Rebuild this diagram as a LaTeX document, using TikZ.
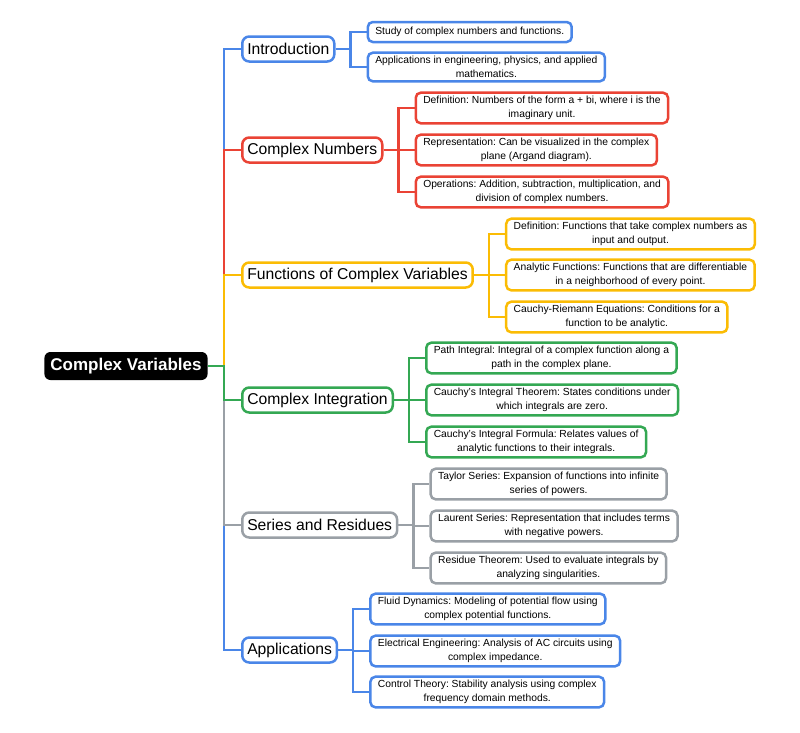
\documentclass[tikz,border=0pt]{standalone}
\usepackage{fontspec}
\setmainfont{Liberation Sans}
\usetikzlibrary{positioning}

\definecolor{cblue}{HTML}{4A86E8}
\definecolor{cred}{HTML}{EA4335}
\definecolor{cyellow}{HTML}{FBBC04}
\definecolor{cgreen}{HTML}{34A853}
\definecolor{cgray}{HTML}{9AA0A6}

\tikzset{
  rootbox/.style={fill=black, text=white, rounded corners=6pt, inner xsep=6pt,
    minimum height=28pt, font=\fontsize{17}{20}\selectfont\bfseries},
  branchbox/.style={draw=#1, fill=white, line width=2.5pt, rounded corners=7pt,
    inner xsep=5pt, minimum height=25pt, font=\fontsize{15.7}{19}\selectfont},
  leafbox/.style={draw=#1, fill=white, line width=2.5pt, rounded corners=5pt,
    inner xsep=7.5pt, inner ysep=3.5pt, minimum height=20pt, align=center,
    font=\fontsize{10.3}{14}\selectfont},
  link/.style={draw=#1, line width=2.6pt}
}

\begin{document}
\frenchspacing
\begin{tikzpicture}[x=1pt, y=-1pt]
  \useasboundingbox (0,0) rectangle (800,732);

  \node[rootbox] (root) at (126,366) {Complex Variables};
  \coordinate (trunk) at (224,366);

  \node[branchbox=cblue, anchor=west] (intro) at (241,49) {Introduction};
  \node[branchbox=cred, anchor=west] (numbers) at (241,150) {Complex Numbers};
  \node[branchbox=cyellow, anchor=west] (functions) at (241,275) {Functions of Complex Variables};
  \node[branchbox=cgreen, anchor=west] (integration) at (241,400) {Complex Integration};
  \node[branchbox=cgray, anchor=west] (series) at (241,525) {Series and Residues};
  \node[branchbox=cblue, anchor=west] (apps) at (241,650) {Applications};

  % introduction
  \node[leafbox=cblue, right=31pt of intro, yshift=17pt] (intro1) {Study of complex numbers and functions.};
  \node[leafbox=cblue, right=31pt of intro, yshift=-18pt] (intro2) {Applications in engineering, physics, and applied\\mathematics.};

  % complex numbers
  \node[leafbox=cred, right=31pt of numbers, yshift=42pt] (numbers1) {Definition: Numbers of the form a + bi, where i is the\\imaginary unit.};
  \node[leafbox=cred, right=31pt of numbers] (numbers2) {Representation: Can be visualized in the complex\\plane (Argand diagram).};
  \node[leafbox=cred, right=31pt of numbers, yshift=-42pt] (numbers3) {Operations: Addition, subtraction, multiplication, and\\division of complex numbers.};

  % functions
  \node[leafbox=cyellow, right=31pt of functions, yshift=41pt] (functions1) {Definition: Functions that take complex numbers as\\input and output.};
  \node[leafbox=cyellow, right=31pt of functions] (functions2) {Analytic Functions: Functions that are differentiable\\in a neighborhood of every point.};
  \node[leafbox=cyellow, right=31pt of functions, yshift=-42pt] (functions3) {Cauchy-Riemann Equations: Conditions for a\\function to be analytic.};

  % integration
  \node[leafbox=cgreen, right=31pt of integration, yshift=42pt] (integration1) {Path Integral: Integral of a complex function along a\\path in the complex plane.};
  \node[leafbox=cgreen, right=31pt of integration] (integration2) {Cauchy's Integral Theorem: States conditions under\\which integrals are zero.};
  \node[leafbox=cgreen, right=31pt of integration, yshift=-42pt] (integration3) {Cauchy's Integral Formula: Relates values of\\analytic functions to their integrals.};

  % series
  \node[leafbox=cgray, right=31pt of series, yshift=41pt] (series1) {Taylor Series: Expansion of functions into infinite\\series of powers.};
  \node[leafbox=cgray, right=31pt of series, yshift=-1pt] (series2) {Laurent Series: Representation that includes terms\\with negative powers.};
  \node[leafbox=cgray, right=31pt of series, yshift=-43pt] (series3) {Residue Theorem: Used to evaluate integrals by\\analyzing singularities.};

  % applications
  \node[leafbox=cblue, right=31pt of apps, yshift=41pt] (apps1) {Fluid Dynamics: Modeling of potential flow using\\complex potential functions.};
  \node[leafbox=cblue, right=31pt of apps, yshift=-1pt] (apps2) {Electrical Engineering: Analysis of AC circuits using\\complex impedance.};
  \node[leafbox=cblue, right=31pt of apps, yshift=-42pt] (apps3) {Control Theory: Stability analysis using complex\\frequency domain methods.};

  % trunk to branches
  \draw[link=cblue] (trunk) |- (intro.west);
  \draw[link=cred] (trunk) |- (numbers.west);
  \draw[link=cyellow] (trunk) |- (functions.west);
  \draw[link=cblue] (trunk) |- (apps.west);
  \draw[link=cgray] (trunk) |- (series.west);
  \draw[link=cgreen] (root.east) -- (trunk) |- (integration.west);

  % branches to leaves
  \foreach \b/\c/\w in {intro/cblue/2, numbers/cred/3, functions/cyellow/3,
                        integration/cgreen/3, series/cgray/3, apps/cblue/3}
    \foreach \i in {1,...,\w}
      \draw[link=\c] (\b.east) -- ++(15,0) |- (\b\i.west);
\end{tikzpicture}
\end{document}
